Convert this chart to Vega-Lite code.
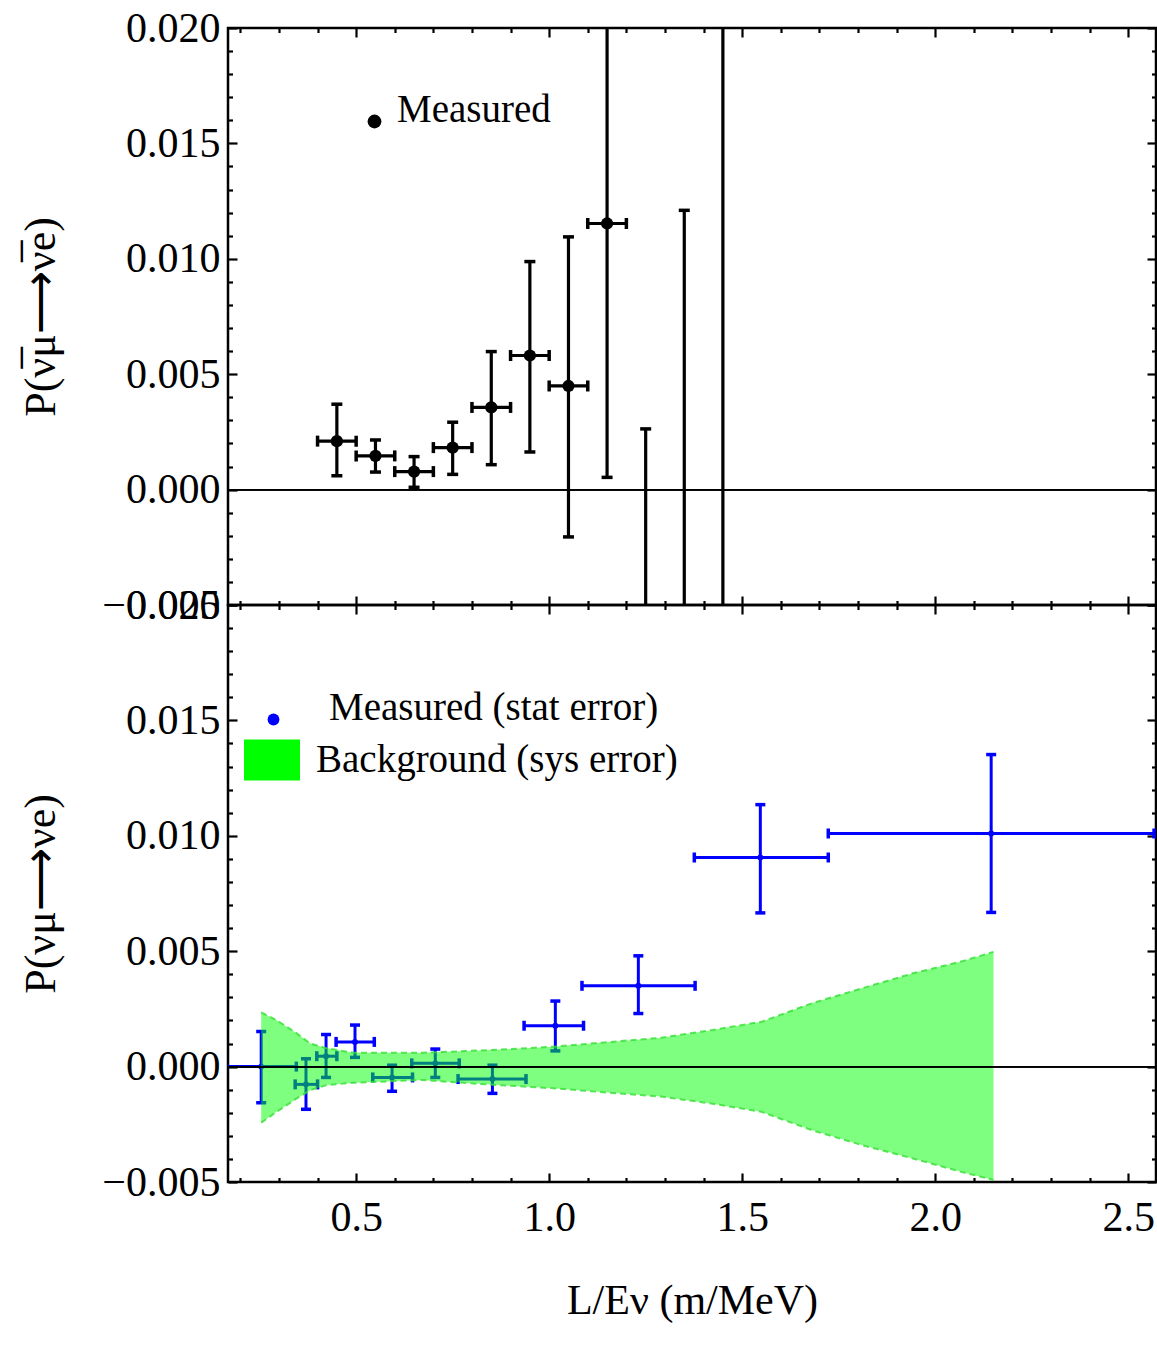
{
  "$schema": "https://vega.github.io/schema/vega-lite/v6.json",
  "background": "white",
  "padding": {"left": 18, "top": 5, "right": 0, "bottom": 0},
  "spacing": 0,
  "bounds": "flush",
  "datasets": {
    "top": [
      {"x": 0.45, "y": 0.0021, "xlo": 0.4, "xhi": 0.5, "ylo": 0.0006, "yhi": 0.0037, "series": "Measured"},
      {"x": 0.55, "y": 0.00146, "xlo": 0.5, "xhi": 0.6, "ylo": 0.00076, "yhi": 0.00215, "series": "Measured"},
      {"x": 0.65, "y": 0.00078, "xlo": 0.6, "xhi": 0.7, "ylo": 0.0001, "yhi": 0.00143, "series": "Measured"},
      {"x": 0.75, "y": 0.00182, "xlo": 0.7, "xhi": 0.8, "ylo": 0.00066, "yhi": 0.00292, "series": "Measured"},
      {"x": 0.85, "y": 0.00356, "xlo": 0.8, "xhi": 0.9, "ylo": 0.00108, "yhi": 0.00598, "series": "Measured"},
      {"x": 0.95, "y": 0.00581, "xlo": 0.9, "xhi": 1.0, "ylo": 0.00163, "yhi": 0.00988, "series": "Measured"},
      {"x": 1.05, "y": 0.00449, "xlo": 1.0, "xhi": 1.1, "ylo": -0.00205, "yhi": 0.01095, "series": "Measured"},
      {"x": 1.15, "y": 0.01153, "xlo": 1.1, "xhi": 1.2, "ylo": 0.00053, "yhi": 0.02253, "series": "Measured"},
      {"x": 1.25, "y": -0.011, "xlo": 1.2, "xhi": 1.3, "ylo": -0.0247, "yhi": 0.00263, "series": "Measured"},
      {"x": 1.35, "y": -0.0085, "xlo": 1.3, "xhi": 1.4, "ylo": -0.0291, "yhi": 0.0121, "series": "Measured"},
      {"x": 1.45, "y": -0.012, "xlo": 1.4, "xhi": 1.5, "ylo": -0.059, "yhi": 0.035, "series": "Measured"}
    ],
    "bot": [
      {"x": 0.254, "y": 0.0, "xlo": 0.164, "xhi": 0.345, "ylo": -0.00157, "yhi": 0.00152, "series": "Measured (stat error)"},
      {"x": 0.37, "y": -0.00077, "xlo": 0.342, "xhi": 0.4, "ylo": -0.00185, "yhi": 0.00034, "series": "Measured (stat error)"},
      {"x": 0.422, "y": 0.00045, "xlo": 0.398, "xhi": 0.45, "ylo": -0.00047, "yhi": 0.00139, "series": "Measured (stat error)"},
      {"x": 0.497, "y": 0.00107, "xlo": 0.448, "xhi": 0.547, "ylo": 0.0004, "yhi": 0.0018, "series": "Measured (stat error)"},
      {"x": 0.593, "y": -0.00047, "xlo": 0.543, "xhi": 0.646, "ylo": -0.00107, "yhi": 0.00006, "series": "Measured (stat error)"},
      {"x": 0.705, "y": 0.00014, "xlo": 0.644, "xhi": 0.767, "ylo": -0.00047, "yhi": 0.00076, "series": "Measured (stat error)"},
      {"x": 0.853, "y": -0.00054, "xlo": 0.764, "xhi": 0.94, "ylo": -0.00116, "yhi": 0.00006, "series": "Measured (stat error)"},
      {"x": 1.016, "y": 0.00177, "xlo": 0.935, "xhi": 1.089, "ylo": 0.00068, "yhi": 0.00284, "series": "Measured (stat error)"},
      {"x": 1.231, "y": 0.0035, "xlo": 1.085, "xhi": 1.378, "ylo": 0.0023, "yhi": 0.0048, "series": "Measured (stat error)"},
      {"x": 1.547, "y": 0.00906, "xlo": 1.376, "xhi": 1.723, "ylo": 0.00666, "yhi": 0.01135, "series": "Measured (stat error)"},
      {"x": 2.145, "y": 0.0101, "xlo": 1.723, "xhi": 2.567, "ylo": 0.00668, "yhi": 0.01352, "series": "Measured (stat error)"}
    ],
    "band": [
      {"x": 0.254, "lo": -0.00243, "hi": 0.00235, "series": "Background (sys error)"},
      {"x": 0.294, "lo": -0.00196, "hi": 0.00201, "series": "Background (sys error)"},
      {"x": 0.346, "lo": -0.00138, "hi": 0.00144, "series": "Background (sys error)"},
      {"x": 0.381, "lo": -0.00102, "hi": 0.001, "series": "Background (sys error)"},
      {"x": 0.424, "lo": -0.0008, "hi": 0.00079, "series": "Background (sys error)"},
      {"x": 0.493, "lo": -0.0007, "hi": 0.0006, "series": "Background (sys error)"},
      {"x": 0.67, "lo": -0.00058, "hi": 0.0006, "series": "Background (sys error)"},
      {"x": 0.84, "lo": -0.00077, "hi": 0.00071, "series": "Background (sys error)"},
      {"x": 1.01, "lo": -0.00094, "hi": 0.00086, "series": "Background (sys error)"},
      {"x": 1.18, "lo": -0.00116, "hi": 0.0011, "series": "Background (sys error)"},
      {"x": 1.29, "lo": -0.0013, "hi": 0.00125, "series": "Background (sys error)"},
      {"x": 1.42, "lo": -0.0016, "hi": 0.00158, "series": "Background (sys error)"},
      {"x": 1.55, "lo": -0.00196, "hi": 0.00194, "series": "Background (sys error)"},
      {"x": 1.68, "lo": -0.00275, "hi": 0.00274, "series": "Background (sys error)"},
      {"x": 1.81, "lo": -0.0034, "hi": 0.00339, "series": "Background (sys error)"},
      {"x": 1.94, "lo": -0.00397, "hi": 0.00403, "series": "Background (sys error)"},
      {"x": 2.065, "lo": -0.00455, "hi": 0.00454, "series": "Background (sys error)"},
      {"x": 2.151, "lo": -0.00491, "hi": 0.00497, "series": "Background (sys error)"}
    ]
  },
  "vconcat": [
    {
      "width": 928,
      "height": 577,
      "data": {"name": "top"},
      "resolve": {"axis": {"x": "independent", "y": "independent"}},
      "layer": [
        {
          "mark": {"type": "rule", "color": "black", "strokeWidth": 3.2, "clip": true},
          "encoding": {
            "x": {"field": "x", "type": "quantitative", "scale": {"domain": [0.168, 2.572], "nice": false, "zero": false},
              "axis": {"orient": "bottom", "title": null, "labels": false,
                "values": [0.2,0.3,0.4,0.5,0.6,0.7,0.8,0.9,1,1.1,1.2,1.3,1.4,1.5,1.6,1.7,1.8,1.9,2,2.1,2.2,2.3,2.4,2.5],
                "tickSize": {"condition": {"test": "abs(datum.value*2-round(datum.value*2))<0.01", "value": -9}, "value": -4.5}}},
            "y": {"field": "ylo", "type": "quantitative", "scale": {"domain": [-0.005, 0.02], "nice": false, "zero": false},
              "axis": {"orient": "left", "title": "P(ν̅μ⟶ν̅e)", "titlePadding": 38,
                "values": [-0.005,-0.004,-0.003,-0.002,-0.001,0,0.001,0.002,0.003,0.004,0.005,0.006,0.007,0.008,0.009,0.01,0.011,0.012,0.013,0.014,0.015,0.016,0.017,0.018,0.019,0.02],
                "labelExpr": "abs(datum.value*200-round(datum.value*200))<0.01 ? format(datum.value,'.3f') : ''",
                "labelPadding": 17,
                "tickSize": {"condition": {"test": "abs(datum.value*200-round(datum.value*200))<0.01", "value": -9}, "value": -4.5}}},
            "y2": {"field": "yhi"}
          }
        },
        {
          "mark": {"type": "rule", "color": "black", "strokeWidth": 3.2, "clip": true},
          "encoding": {
            "x": {"field": "xlo", "type": "quantitative", "scale": {"domain": [0.168, 2.572], "nice": false, "zero": false},
              "axis": {"orient": "top", "title": null, "labels": false,
                "values": [0.2,0.3,0.4,0.5,0.6,0.7,0.8,0.9,1,1.1,1.2,1.3,1.4,1.5,1.6,1.7,1.8,1.9,2,2.1,2.2,2.3,2.4,2.5],
                "tickSize": {"condition": {"test": "abs(datum.value*2-round(datum.value*2))<0.01", "value": -9}, "value": -4.5}}},
            "x2": {"field": "xhi"},
            "y": {"field": "y", "type": "quantitative", "scale": {"domain": [-0.005, 0.02], "nice": false, "zero": false},
              "axis": {"orient": "right", "title": null, "labels": false,
                "values": [-0.005,-0.004,-0.003,-0.002,-0.001,0,0.001,0.002,0.003,0.004,0.005,0.006,0.007,0.008,0.009,0.01,0.011,0.012,0.013,0.014,0.015,0.016,0.017,0.018,0.019,0.02],
                "tickSize": {"condition": {"test": "abs(datum.value*200-round(datum.value*200))<0.01", "value": -9}, "value": -4.5}}}
          }
        },
        {
          "transform": [{"fold": ["ylo", "yhi"], "as": ["end", "yc"]}],
          "mark": {"type": "tick", "orient": "horizontal", "color": "black", "thickness": 3.5, "size": 11, "clip": true, "opacity": 1},
          "encoding": {
            "x": {"field": "x", "type": "quantitative", "scale": {"domain": [0.168, 2.572], "nice": false, "zero": false}, "axis": null},
            "y": {"field": "yc", "type": "quantitative", "scale": {"domain": [-0.005, 0.02], "nice": false, "zero": false}, "axis": null}
          }
        },
        {
          "transform": [{"fold": ["xlo", "xhi"], "as": ["end", "xc"]}],
          "mark": {"type": "tick", "orient": "vertical", "color": "black", "thickness": 3.5, "size": 11, "clip": true, "opacity": 1},
          "encoding": {
            "x": {"field": "xc", "type": "quantitative", "scale": {"domain": [0.168, 2.572], "nice": false, "zero": false}, "axis": null},
            "y": {"field": "y", "type": "quantitative", "scale": {"domain": [-0.005, 0.02], "nice": false, "zero": false}, "axis": null}
          }
        },
        {
          "mark": {"type": "point", "filled": true, "size": 150, "opacity": 1, "clip": true},
          "encoding": {
            "x": {"field": "x", "type": "quantitative", "scale": {"domain": [0.168, 2.572], "nice": false, "zero": false}, "axis": null},
            "y": {"field": "y", "type": "quantitative", "scale": {"domain": [-0.005, 0.02], "nice": false, "zero": false}, "axis": null},
            "color": {"field": "series", "type": "nominal", "scale": {"domain": ["Measured"], "range": ["black"]},
              "legend": {"title": null, "orient": "none", "legendX": 127, "legendY": 74, "padding": 0,
                "symbolType": "circle", "symbolSize": 190, "symbolStrokeWidth": 0, "symbolOpacity": 1, "labelOffset": 3,
                "labelBaseline": "alphabetic"}}
          }
        },
        {
          "mark": {"type": "rule", "color": "black", "strokeWidth": 1.3},
          "encoding": {
            "y": {"datum": 0, "type": "quantitative", "scale": {"domain": [-0.005, 0.02], "nice": false, "zero": false}, "axis": null}
          }
        }
      ]
    },
    {
      "width": 928,
      "height": 577,
      "resolve": {"axis": {"x": "independent", "y": "independent"}},
      "layer": [
        {
          "data": {"name": "bot"},
          "mark": {"type": "rule", "color": "#0000ff", "strokeWidth": 3, "clip": true},
          "encoding": {
            "x": {"field": "x", "type": "quantitative", "scale": {"domain": [0.168, 2.572], "nice": false, "zero": false},
              "axis": {"orient": "bottom", "title": "L/Eν (m/MeV)", "titlePadding": 38, "titleFontSize": 42,
                "values": [0.2,0.3,0.4,0.5,0.6,0.7,0.8,0.9,1,1.1,1.2,1.3,1.4,1.5,1.6,1.7,1.8,1.9,2,2.1,2.2,2.3,2.4,2.5],
                "labelExpr": "abs(datum.value*2-round(datum.value*2))<0.01 ? format(datum.value,'.1f') : ''",
                "labelPadding": 24,
                "tickSize": {"condition": {"test": "abs(datum.value*2-round(datum.value*2))<0.01", "value": -9}, "value": -4.5}}},
            "y": {"field": "ylo", "type": "quantitative", "scale": {"domain": [-0.005, 0.02], "nice": false, "zero": false},
              "axis": {"orient": "left", "title": "P(νμ⟶νe)", "titlePadding": 38,
                "values": [-0.005,-0.004,-0.003,-0.002,-0.001,0,0.001,0.002,0.003,0.004,0.005,0.006,0.007,0.008,0.009,0.01,0.011,0.012,0.013,0.014,0.015,0.016,0.017,0.018,0.019,0.02],
                "labelExpr": "abs(datum.value*200-round(datum.value*200))<0.01 ? format(datum.value,'.3f') : ''",
                "labelPadding": 17,
                "tickSize": {"condition": {"test": "abs(datum.value*200-round(datum.value*200))<0.01", "value": -9}, "value": -4.5}}},
            "y2": {"field": "yhi"}
          }
        },
        {
          "data": {"name": "bot"},
          "mark": {"type": "rule", "color": "#0000ff", "strokeWidth": 3, "clip": true},
          "encoding": {
            "x": {"field": "xlo", "type": "quantitative", "scale": {"domain": [0.168, 2.572], "nice": false, "zero": false},
              "axis": {"orient": "top", "title": null, "labels": false,
                "values": [0.2,0.3,0.4,0.5,0.6,0.7,0.8,0.9,1,1.1,1.2,1.3,1.4,1.5,1.6,1.7,1.8,1.9,2,2.1,2.2,2.3,2.4,2.5],
                "tickSize": {"condition": {"test": "abs(datum.value*2-round(datum.value*2))<0.01", "value": -9}, "value": -4.5}}},
            "x2": {"field": "xhi"},
            "y": {"field": "y", "type": "quantitative", "scale": {"domain": [-0.005, 0.02], "nice": false, "zero": false},
              "axis": {"orient": "right", "title": null, "labels": false,
                "values": [-0.005,-0.004,-0.003,-0.002,-0.001,0,0.001,0.002,0.003,0.004,0.005,0.006,0.007,0.008,0.009,0.01,0.011,0.012,0.013,0.014,0.015,0.016,0.017,0.018,0.019,0.02],
                "tickSize": {"condition": {"test": "abs(datum.value*200-round(datum.value*200))<0.01", "value": -9}, "value": -4.5}}}
          }
        },
        {
          "data": {"name": "bot"},
          "transform": [{"fold": ["ylo", "yhi"], "as": ["end", "yc"]}],
          "mark": {"type": "tick", "orient": "horizontal", "color": "#0000ff", "thickness": 3.5, "size": 10, "clip": true, "opacity": 1},
          "encoding": {
            "x": {"field": "x", "type": "quantitative", "scale": {"domain": [0.168, 2.572], "nice": false, "zero": false}, "axis": null},
            "y": {"field": "yc", "type": "quantitative", "scale": {"domain": [-0.005, 0.02], "nice": false, "zero": false}, "axis": null}
          }
        },
        {
          "data": {"name": "bot"},
          "transform": [{"fold": ["xlo", "xhi"], "as": ["end", "xc"]}],
          "mark": {"type": "tick", "orient": "vertical", "color": "#0000ff", "thickness": 3.5, "size": 10, "clip": true, "opacity": 1},
          "encoding": {
            "x": {"field": "xc", "type": "quantitative", "scale": {"domain": [0.168, 2.572], "nice": false, "zero": false}, "axis": null},
            "y": {"field": "y", "type": "quantitative", "scale": {"domain": [-0.005, 0.02], "nice": false, "zero": false}, "axis": null}
          }
        },
        {
          "data": {"name": "bot"},
          "mark": {"type": "point", "filled": true, "size": 35, "opacity": 1, "clip": true},
          "encoding": {
            "x": {"field": "x", "type": "quantitative", "scale": {"domain": [0.168, 2.572], "nice": false, "zero": false}, "axis": null},
            "y": {"field": "y", "type": "quantitative", "scale": {"domain": [-0.005, 0.02], "nice": false, "zero": false}, "axis": null},
            "color": {"field": "series", "type": "nominal", "scale": {"domain": ["Measured (stat error)"], "range": ["#0000ff"]},
              "legend": {"title": null, "orient": "none", "legendX": 26, "legendY": 95, "padding": 0,
                "symbolType": "circle", "symbolSize": 140, "symbolStrokeWidth": 0, "symbolOpacity": 1, "labelOffset": 36,
                "labelBaseline": "alphabetic"}}
          }
        },
        {
          "data": {"name": "band"},
          "mark": {"type": "area", "opacity": 0.5, "clip": true},
          "encoding": {
            "x": {"field": "x", "type": "quantitative", "scale": {"domain": [0.168, 2.572], "nice": false, "zero": false}, "axis": null},
            "y": {"field": "lo", "type": "quantitative", "scale": {"domain": [-0.005, 0.02], "nice": false, "zero": false}, "axis": null},
            "y2": {"field": "hi"},
            "fill": {"field": "series", "type": "nominal", "scale": {"domain": ["Background (sys error)"], "range": ["#00ff00"]},
              "legend": {"title": null, "orient": "none", "legendX": 16, "legendY": 127, "padding": 0,
                "symbolType": "M-1,-0.732L1,-0.732L1,0.732L-1,0.732Z", "symbolSize": 3136, "symbolStrokeWidth": 0, "symbolOpacity": 1, "labelOffset": 16}}
          }
        },
        {
          "data": {"name": "band"},
          "transform": [{"fold": ["lo", "hi"], "as": ["edge", "v"]}],
          "mark": {"type": "line", "color": "#33e033", "strokeWidth": 2, "strokeDash": [6, 4], "clip": true, "opacity": 0.8},
          "encoding": {
            "x": {"field": "x", "type": "quantitative", "scale": {"domain": [0.168, 2.572], "nice": false, "zero": false}, "axis": null},
            "y": {"field": "v", "type": "quantitative", "scale": {"domain": [-0.005, 0.02], "nice": false, "zero": false}, "axis": null},
            "detail": {"field": "edge", "type": "nominal"}
          }
        },
        {
          "data": {"name": "bot"},
          "mark": {"type": "rule", "color": "black", "strokeWidth": 1.3},
          "encoding": {
            "y": {"datum": 0, "type": "quantitative", "scale": {"domain": [-0.005, 0.02], "nice": false, "zero": false}, "axis": null}
          }
        }
      ]
    }
  ],
  "resolve": {
    "scale": {"color": "independent", "fill": "independent", "x": "independent", "y": "independent"},
    "legend": {"color": "independent", "fill": "independent"}
  },
  "config": {
    "font": "Liberation Serif",
    "view": {"stroke": "black", "strokeWidth": 2.5},
    "axis": {
      "domain": false, "grid": false,
      "tickColor": "black", "tickWidth": 2.2,
      "labelFont": "Liberation Serif", "labelFontSize": 42, "labelColor": "black",
      "labelOverlap": false, "labelFlush": false, "labelBound": false,
      "titleFont": "Liberation Serif", "titleFontSize": 44, "titleFontWeight": "normal", "titleColor": "black"
    },
    "legend": {"labelFont": "Liberation Serif", "labelFontSize": 39, "labelColor": "black", "labelLimit": 700}
  }
}
